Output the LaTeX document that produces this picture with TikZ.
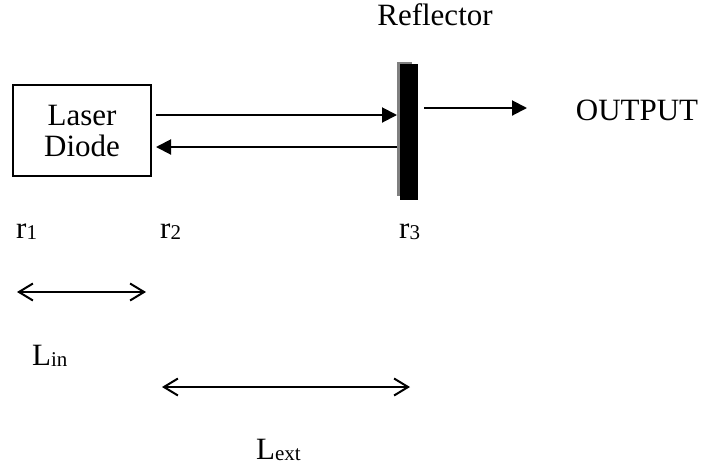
\documentclass[tikz,border=0pt]{standalone}
\usepackage{fontspec}
\setmainfont{Liberation Serif}
\usetikzlibrary{arrows.meta}
\newcommand{\mysub}[1]{\raisebox{-1.5pt}{\fontsize{21}{21}\selectfont #1}}
\begin{document}
\begin{tikzpicture}[x=1pt,y=-1pt,
  lbl/.style={font=\fontsize{31}{34}\selectfont, inner sep=0pt},
  sym/.style={font=\fontsize{31}{34}\selectfont, inner sep=0pt, anchor=base west},
  beam/.style={line width=2pt, -{Triangle[length=15pt,width=15pt]}},
  span/.style={line width=2pt, {Straight Barb[length=14pt,width=17pt,line width=2pt]}-{Straight Barb[length=14pt,width=17pt,line width=2pt]}}]
\useasboundingbox (0,0) rectangle (704,467);
% laser diode box
\node[draw, line width=2pt, minimum width=138pt, minimum height=91pt, inner sep=0pt,
      align=center, font=\fontsize{31}{31}\selectfont] (ld) at (82,130.5) {Laser\\Diode};
% reflector
\fill[gray] (397,62) rectangle (412,196);
\fill[black] (399.5,64) rectangle (418,200);
\coordinate (lin1) at (156,115);
\coordinate (rin1) at (397,115);
\coordinate (lin2) at (156,147);
\coordinate (rin2) at (397,147);
\coordinate (o1) at (424,108);
\coordinate (o2) at (527,108);
\node[lbl] (rtext) at (435,15) {Reflector};
\node[lbl] (out) at (637,110) {OUTPUT};
\draw[beam] (lin1) -- (rin1);
\draw[beam] (rin2) -- (lin2);
\draw[beam] (o1) -- (o2);
% r labels
\node[sym] (r1) at (16,238) {r\mysub{1}};
\node[sym] (r2) at (160,238) {r\mysub{2}};
\node[sym] (r3) at (399,238) {r\mysub{3}};
% lengths
\coordinate (a1) at (17,292);
\coordinate (a2) at (146,292);
\coordinate (b1) at (162,387);
\coordinate (b2) at (410,387);
\draw[span] (a1) -- (a2);
\draw[span] (b1) -- (b2);
\node[sym] (lin) at (32,365) {L\mysub{in}};
\node[sym] (lext) at (256,459) {L\mysub{ext}};
\end{tikzpicture}
\end{document}
